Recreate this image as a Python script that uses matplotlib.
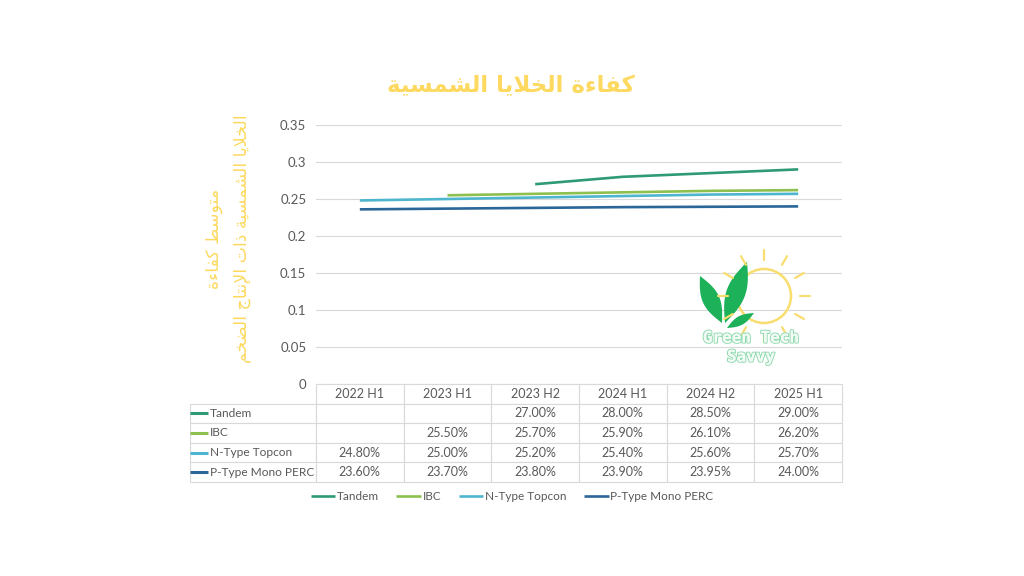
import numpy as np
import matplotlib
matplotlib.use("Agg")
import matplotlib.pyplot as plt
from matplotlib.table import Table
from matplotlib.patches import Circle, Polygon
import matplotlib.patheffects as pe

# ---------------- data ----------------
categories = ["2022 H1", "2023 H1", "2023 H2", "2024 H1", "2024 H2", "2025 H1"]
series_names = ["Tandem", "IBC", "N-Type Topcon", "P-Type Mono PERC"]
tandem = [np.nan, np.nan, 0.27, 0.28, 0.285, 0.29]
ibc = [np.nan, 0.255, 0.257, 0.259, 0.261, 0.262]
topcon = [0.248, 0.25, 0.252, 0.254, 0.256, 0.257]
perc = [0.236, 0.237, 0.238, 0.239, 0.2395, 0.24]
series_values = [tandem, ibc, topcon, perc]
series_colors = ["#2E9A76", "#8DC04E", "#4DB6CE", "#2B6698"]
yticks = [0, 0.05, 0.1, 0.15, 0.2, 0.25, 0.3, 0.35]
ytick_labels = ["0", "0.05", "0.1", "0.15", "0.2", "0.25", "0.3", "0.35"]
title_text = "كفاءة الخلايا الشمسية"
ylabel_line1 = "متوسط كفاءة"
ylabel_line2 = "الخلايا الشمسية ذات الإنتاج الضخم"

# ---------------- simple Arabic shaping ----------------
AR = {
    'ا': ('\uFE8D', '\uFE8E', None, None),
    'إ': ('\uFE87', '\uFE88', None, None),
    'ء': ('\uFE80', None, None, None),
    'ة': ('\uFE93', '\uFE94', None, None),
    'ت': ('\uFE95', '\uFE96', '\uFE97', '\uFE98'),
    'ج': ('\uFE9D', '\uFE9E', '\uFE9F', '\uFEA0'),
    'خ': ('\uFEA5', '\uFEA6', '\uFEA7', '\uFEA8'),
    'ذ': ('\uFEAB', '\uFEAC', None, None),
    'و': ('\uFEED', '\uFEEE', None, None),
    'س': ('\uFEB1', '\uFEB2', '\uFEB3', '\uFEB4'),
    'ش': ('\uFEB5', '\uFEB6', '\uFEB7', '\uFEB8'),
    'ض': ('\uFEBD', '\uFEBE', '\uFEBF', '\uFEC0'),
    'ط': ('\uFEC1', '\uFEC2', '\uFEC3', '\uFEC4'),
    'ف': ('\uFED1', '\uFED2', '\uFED3', '\uFED4'),
    'ك': ('\uFED9', '\uFEDA', '\uFEDB', '\uFEDC'),
    'ل': ('\uFEDD', '\uFEDE', '\uFEDF', '\uFEE0'),
    'م': ('\uFEE1', '\uFEE2', '\uFEE3', '\uFEE4'),
    'ن': ('\uFEE5', '\uFEE6', '\uFEE7', '\uFEE8'),
    'ي': ('\uFEF1', '\uFEF2', '\uFEF3', '\uFEF4'),
}
LAMALEF = {'ا': ('\uFEFB', '\uFEFC'), 'إ': ('\uFEF9', '\uFEFA')}


def shape(s):
    def jf(c):
        return c in AR and AR[c][2] is not None

    def jb(c):
        return c in AR and AR[c][1] is not None

    out = []
    i, n = 0, len(s)
    while i < n:
        c = s[i]
        if c not in AR:
            out.append(c)
            i += 1
            continue
        prev = s[i - 1] if i > 0 else ''
        cp = jf(prev) and jb(c)
        if c == 'ل' and i + 1 < n and s[i + 1] in LAMALEF:
            out.append(LAMALEF[s[i + 1]][1 if cp else 0])
            i += 2
            continue
        nxt = s[i + 1] if i + 1 < n else ''
        cn = jf(c) and jb(nxt)
        iso, fin, ini, med = AR[c]
        if cp and cn:
            g = med
        elif cp:
            g = fin
        elif cn:
            g = ini
        else:
            g = iso
        out.append(g)
        i += 1
    return ''.join(reversed(out))


# ---------------- figure ----------------
W, H = 1024, 576
fig = plt.figure(figsize=(W / 100, H / 100), dpi=100)
fig.patch.set_facecolor("white")
text_gray = "#595959"
grid_gray = "#D9D9D9"
gold = "#FDD95F"
ui_font = "Lato"

ax_l, ax_r, ax_t, ax_b = 316, 842, 125, 384
ax = fig.add_axes([ax_l / W, 1 - ax_b / H, (ax_r - ax_l) / W, (ax_b - ax_t) / H])
x = np.arange(len(categories))
lines = []
for name, vals, col in zip(series_names, series_values, series_colors):
    ln, = ax.plot(x, vals, color=col, lw=1.9, solid_capstyle="butt", label=name, zorder=3)
    lines.append(ln)
ax.set_xlim(-0.5, len(categories) - 0.5)
ax.set_ylim(0, 0.35)
ax.set_yticks(yticks)
ax.set_yticklabels(ytick_labels, fontsize=9.5, color=text_gray, family=ui_font)
ax.set_xticks([])
ax.tick_params(axis="y", length=0, pad=7)
ax.yaxis.grid(True, color=grid_gray, lw=0.8)
ax.set_axisbelow(True)
for s in ax.spines.values():
    s.set_visible(False)

# ---------------- data table ----------------
tb_left, tb_bottom = 190, 482
axw, axh = ax_r - ax_l, ax_b - ax_t
nrows = len(series_names) + 1
grid_h = (tb_bottom - ax_b) / axh          # table height in axes fraction
row_h = grid_h / nrows
col_w = 1.0 / len(categories)
label_w = (ax_l - tb_left) / axw
tbl = Table(ax, bbox=[0, -grid_h, 1, grid_h])
for j, cat in enumerate(categories):
    tbl.add_cell(0, j, width=col_w, height=row_h, text=cat, loc="center")
for i, (name, vals) in enumerate(zip(series_names, series_values)):
    c = tbl.add_cell(i + 1, -1, width=label_w, height=row_h, text=name, loc="left")
    c.PAD = 0.155
    for j, v in enumerate(vals):
        txt = "" if np.isnan(v) else f"{v * 100:.2f}%"
        tbl.add_cell(i + 1, j, width=col_w, height=row_h, text=txt, loc="center")
tbl.auto_set_font_size(False)
for (r, cidx), cell in tbl.get_celld().items():
    cell.set_edgecolor(grid_gray)
    cell.set_linewidth(0.8)
    cell.get_text().set_color(text_gray)
    cell.get_text().set_fontsize(8.6 if cidx == -1 else 9)
    cell.get_text().set_family(ui_font)
tbl.set_clip_on(False)
ax.add_table(tbl)

# legend keys in table row labels
for i, col in enumerate(series_colors):
    yc = -(i + 1.5) * row_h
    ax.plot([-label_w, -label_w + 18 / axw], [yc, yc], color=col, lw=2.2,
            transform=ax.transAxes, clip_on=False, solid_capstyle="butt", zorder=5)

# ---------------- legend ----------------
leg = fig.legend(lines, series_names, loc="center", bbox_to_anchor=(512 / W, 1 - 497 / H),
                 ncol=4, frameon=False, handlelength=2.1, handletextpad=0.15,
                 columnspacing=1.45, prop={"family": ui_font, "size": 8.5})
for t in leg.get_texts():
    t.set_color(text_gray)

# ---------------- title and y label ----------------
fig.text(511 / W, 1 - 86 / H, shape(title_text), ha="center", va="center",
         fontsize=16.5, fontweight="bold", color=gold, family="DejaVu Sans")
fig.text(228 / W, 1 - 239 / H, shape(ylabel_line1) + "\n" + shape(ylabel_line2),
         rotation=90, ha="center", va="center", multialignment="center",
         fontsize=12.5, color=gold, family="DejaVu Sans", linespacing=1.65)

# ---------------- logo ----------------
lg = fig.add_axes([690 / W, 1 - 372 / H, 125 / W, 127 / H])
lg.set_xlim(690, 815)
lg.set_ylim(372, 245)
lg.axis("off")
lg.patch.set_alpha(0)
sun_c = (764, 296)
sun_col = "#F7DE6E"
lg.add_patch(Circle(sun_c, 27, fill=False, ec=sun_col, lw=1.8))
for a in np.deg2rad(np.arange(0, 360, 30)):
    r0, r1 = 36, 46
    lg.plot([sun_c[0] + r0 * np.cos(a), sun_c[0] + r1 * np.cos(a)],
            [sun_c[1] - r0 * np.sin(a), sun_c[1] - r1 * np.sin(a)],
            color=sun_col, lw=1.6, solid_capstyle="round")


def leaf(p0, p1, width, n=40):
    p0, p1 = np.array(p0, float), np.array(p1, float)
    d = p1 - p0
    L = np.hypot(*d)
    u = d / L
    nv = np.array([-u[1], u[0]])
    t = np.linspace(0, 1, n)
    off = np.sin(np.pi * t) * width / 2
    side1 = p0 + np.outer(t * L, u) + np.outer(off, nv)
    side2 = p0 + np.outer(t[::-1] * L, u) - np.outer(off[::-1], nv)
    return np.vstack([side1, side2])


leaf_col = "#1DB15A"
lg.add_patch(Polygon(leaf((722, 323), (700, 276), 17), closed=True, fc=leaf_col, ec="none"))
lg.add_patch(Polygon(leaf((725, 323), (747, 262), 19), closed=True, fc=leaf_col, ec="none"))
lg.add_patch(Polygon(leaf((727, 328), (754, 313), 9), closed=True, fc=leaf_col, ec="none"))
for txt, yy in [("Green Tech", 338), ("Savvy", 357)]:
    lg.text(751, yy, txt, ha="center", va="center", fontsize=11.5, fontweight="bold",
            family="DejaVu Sans Mono", color="#F2FBF5",
            path_effects=[pe.withStroke(linewidth=1.6, foreground="#93DBB1"),
                          pe.Normal()])

fig.savefig("out.png", dpi=100)
